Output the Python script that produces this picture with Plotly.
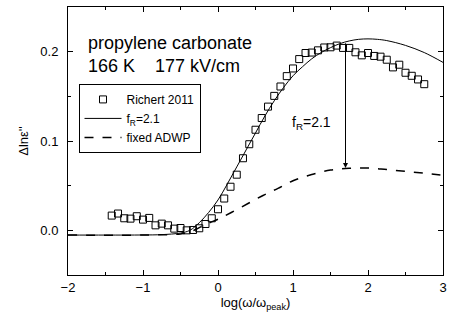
import plotly.graph_objects as go

# Data: Richert 2011 (open squares)
data_x = [-1.417, -1.333, -1.250, -1.167, -1.083, -1.000, -0.917, -0.833, -0.750, -0.667,
          -0.583, -0.500, -0.417, -0.333, -0.250, -0.167, -0.083, 0.000, 0.083, 0.167,
          0.250, 0.333, 0.417, 0.500, 0.583, 0.667, 0.750, 0.833, 0.917, 1.000,
          1.083, 1.167, 1.250, 1.333, 1.417, 1.500, 1.583, 1.667, 1.750, 1.833,
          1.917, 2.000, 2.083, 2.167, 2.250, 2.333, 2.417, 2.500, 2.583, 2.667, 2.750]
data_y = [0.0165, 0.0188, 0.0135, 0.0131, 0.0158, 0.0120, 0.0139, 0.0056, 0.0075, 0.0056,
          0.0019, 0.0026, 0.0000, 0.0004, 0.0023, 0.0071, 0.0135, 0.0236, 0.0356, 0.0488,
          0.0623, 0.0807, 0.0964, 0.1126, 0.1257, 0.1385, 0.1505, 0.1610, 0.1726, 0.1812,
          0.1917, 0.1985, 0.1990, 0.2015, 0.2047, 0.2049, 0.2068, 0.2042, 0.2042, 0.1993,
          0.1959, 0.1985, 0.1952, 0.1944, 0.1910, 0.1824, 0.1854, 0.1764, 0.1730, 0.1689, 0.1636]

# Model curve f_R = 2.1 (solid)
fr_x = [-2.0, -1.5, -1.0, -0.75, -0.5, -0.375, -0.25, -0.125, 0.0, 0.125, 0.25, 0.375,
        0.5, 0.625, 0.75, 0.875, 1.0, 1.125, 1.25, 1.375, 1.5, 1.625, 1.75, 1.875,
        2.0, 2.125, 2.25, 2.5, 2.75, 3.0]
fr_y = [-0.0053, -0.0053, -0.0052, -0.0048, -0.0030, 0.0000, 0.0085, 0.0200, 0.0340, 0.0520,
        0.0710, 0.0900, 0.1090, 0.1280, 0.1450, 0.1600, 0.1730, 0.1830, 0.1920, 0.1990,
        0.2045, 0.2090, 0.2120, 0.2138, 0.2143, 0.2138, 0.2124, 0.2070, 0.1990, 0.1880]

# Model curve fixed ADWP (dashed)
adwp_x = [-2.0, -1.0, -0.5, -0.375, -0.25, -0.125, 0.0, 0.177, 0.4, 0.6, 0.8, 1.0,
          1.25, 1.5, 1.75, 2.0, 2.25, 2.5, 2.75, 3.0]
adwp_y = [-0.0053, -0.0053, -0.0040, -0.0020, 0.0030, 0.0080, 0.0125, 0.0200, 0.0300, 0.0390,
          0.0470, 0.0555, 0.0625, 0.0675, 0.0695, 0.0698, 0.0680, 0.0660, 0.0640, 0.0615]

arrow_x = 1.7
arrow_top = 0.211
arrow_tip = 0.0698

FONT = "Liberation Sans, Arial, sans-serif"

fig = go.Figure()
fig.add_trace(go.Scatter(x=data_x, y=data_y, mode="markers", name="Richert 2011",
                         marker=dict(symbol="square-open", size=7, color="black",
                                     line=dict(width=1, color="black"))))
fig.add_trace(go.Scatter(x=fr_x, y=fr_y, mode="lines", name="f<sub>R</sub>=2.1",
                         line=dict(color="black", width=1, shape="spline")))
fig.add_trace(go.Scatter(x=adwp_x, y=adwp_y, mode="lines", name="fixed ADWP",
                         line=dict(color="black", width=1.5, dash="dash", shape="spline")))

fig.add_annotation(x=arrow_x, y=arrow_tip, ax=arrow_x, ay=arrow_top, xref="x", yref="y",
                   axref="x", ayref="y", text="", showarrow=True, arrowhead=2,
                   arrowsize=1, arrowwidth=1, arrowcolor="black")
fig.add_annotation(x=0.96, y=0.12, xref="x", yref="y", text="f<sub>R</sub>=2.1",
                   showarrow=False, xanchor="left", yanchor="middle",
                   font=dict(size=14, color="black", family=FONT))
fig.add_annotation(x=-1.76, y=0.223, xref="x", yref="y",
                   text="propylene carbonate<br>166 K\u00a0\u00a0\u00a0\u00a0177 kV/cm",
                   showarrow=False, xanchor="left", yanchor="top", align="left",
                   font=dict(size=18, color="black", family=FONT))

axis_common = dict(showline=True, linecolor="black", linewidth=1, mirror="ticks",
                   ticks="inside", ticklen=5, tickcolor="black", showgrid=False,
                   zeroline=False, tickfont=dict(size=13, color="black", family=FONT))

fig.update_xaxes(range=[-2, 3], dtick=1, tick0=-2,
                 minor=dict(ticks="inside", ticklen=3, dtick=0.5, tickcolor="black"),
                 title=dict(text="log(ω/ω<sub>peak</sub>)", standoff=4,
                            font=dict(size=13, color="black", family=FONT)),
                 **axis_common)
fig.update_yaxes(range=[-0.05, 0.25], dtick=0.1, tick0=0, tickformat=".1f",
                 minor=dict(ticks="inside", ticklen=3, dtick=0.05, tickcolor="black"),
                 ticklabelstandoff=6,
                 title=dict(text="Δlnε''", standoff=8,
                            font=dict(size=13, color="black", family=FONT)),
                 **axis_common)

fig.update_layout(width=453, height=318, margin=dict(l=68, r=6, t=7, b=43),
                  paper_bgcolor="white", plot_bgcolor="white",
                  font=dict(family=FONT, color="black"),
                  legend=dict(x=0.028, y=0.713, xanchor="left", yanchor="top",
                              bordercolor="black", borderwidth=1, bgcolor="white",
                              font=dict(size=12, color="black", family=FONT),
                              tracegroupgap=0, itemwidth=37))

fig.write_html("out.html", config={"displayModeBar": False},
               post_script="document.body.style.margin='0';")
